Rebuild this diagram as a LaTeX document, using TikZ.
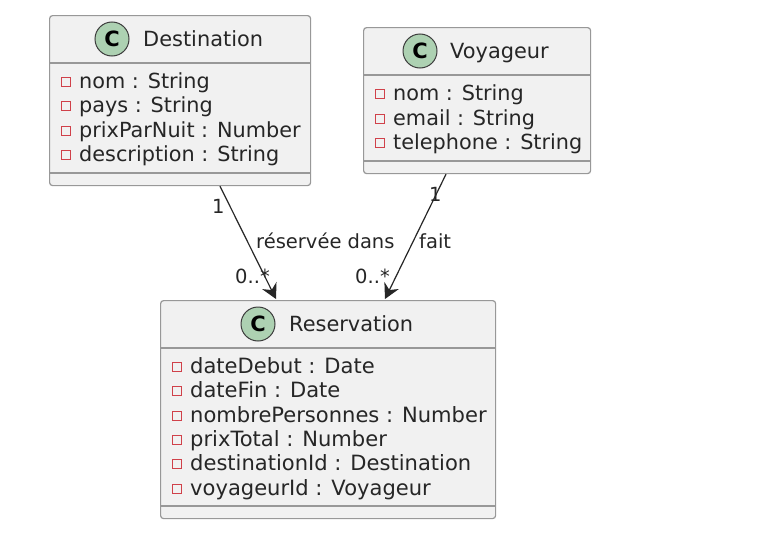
\documentclass[tikz,border=0pt]{standalone}
\usepackage{fontspec}
\setmainfont{DejaVu Sans}
\usetikzlibrary{arrows.meta,calc}
\definecolor{boxfill}{HTML}{F1F1F1}
\definecolor{boxline}{HTML}{989898}
\definecolor{txt}{HTML}{262626}
\definecolor{spot}{HTML}{ADD1B2}
\definecolor{priv}{HTML}{D0414A}
\tikzset{
  classbox/.style={draw=boxline,fill=boxfill,line width=1.2pt,rounded corners=3pt,anchor=north west,inner sep=0pt},
  sepline/.style={draw=boxline,line width=1.1pt},
  spotc/.style={circle,draw=black!60!boxline,fill=spot,line width=1pt,minimum size=34pt,inner sep=0pt,font=\fontsize{21}{21}\selectfont\bfseries,text=black},
  title/.style={font=\fontsize{20.9}{22}\selectfont,text=txt,anchor=base west,inner sep=0pt},
  member/.style={font=\fontsize{20.8}{22}\selectfont,text=txt,anchor=base west,inner sep=0pt},
  memberwide/.style={member,font=\fontsize{21.05}{22}\selectfont},
  privmark/.style={draw=priv,fill=none,line width=1.2pt},
  lbl/.style={font=\fontsize{19.5}{20}\selectfont,text=txt,anchor=base west,inner sep=0pt},
  assoc/.style={draw=txt,line width=1.2pt,-{Stealth[length=15pt,width=16pt,inset=5pt]}}
}
\newcommand{\attr}[5][member]{% style, name, x, baseline y, text
  \draw[privmark] (#3-4.5,#4-10.5) rectangle (#3+4.5,#4-1.5);
  \node[#1] (t#2) at (#3+13,#4) {#5};
}
\begin{document}
\begin{tikzpicture}[x=1pt,y=-1pt]
\useasboundingbox (0,0) rectangle (768,546);
% Destination
\node[classbox,minimum width=261pt,minimum height=170pt] (dest) at (49,15) {};
\draw[sepline] (49,63) -- (310,63) (49,173) -- (310,173);
\node[spotc] (sd) at (112,39) {C};
\node[title] (td) at (143,46) {Destination};
\attr{d1}{66}{88}{nom : String}
\attr{d2}{66}{112}{pays : String}
\attr{d3}{66}{137}{prixParNuit : Number}
\attr{d4}{66}{161}{description : String}
% Voyageur
\node[classbox,minimum width=227pt,minimum height=146pt] (voy) at (363,27) {};
\draw[sepline] (363,75) -- (590,75) (363,161) -- (590,161);
\node[spotc] (sv) at (420,51) {C};
\node[title] (tv) at (450,58) {Voyageur};
\attr{v1}{380}{100}{nom : String}
\attr{v2}{380}{125}{email : String}
\attr{v3}{380}{149}{telephone : String}
% Reservation
\node[classbox,minimum width=335pt,minimum height=218pt] (res) at (160,300) {};
\draw[sepline] (160,348) -- (495,348) (160,506) -- (495,506);
\node[spotc] (sr) at (258,324) {C};
\node[title] (tr) at (289,331) {Reservation};
\attr[memberwide]{r1}{177}{373}{dateDebut : Date}
\attr[memberwide]{r2}{177}{397}{dateFin : Date}
\attr[memberwide]{r3}{177}{422}{nombrePersonnes : Number}
\attr[memberwide]{r4}{177}{446}{prixTotal : Number}
\attr[memberwide]{r5}{177}{470}{destinationId : Destination}
\attr[memberwide]{r6}{177}{495}{voyageurId : Voyageur}
% Connectors
\coordinate (a1) at ($(dest.south west)+(171,0)$);
\coordinate (a2) at ($(res.north west)+(116,-1)$);
\coordinate (b1) at ($(voy.south west)+(83,0)$);
\coordinate (b2) at ($(res.north west)+(225,-1)$);
\draw[assoc] (a1) -- (a2);
\draw[assoc] (b1) -- (b2);
% Labels
\node[lbl] (l1) at (212,213) {1};
\node[lbl] (l2) at (256,248) {réservée dans};
\node[lbl] (l3) at (235,283) {0..*};
\node[lbl] (l4) at (429,201) {1};
\node[lbl] (l5) at (419,248) {fait};
\node[lbl] (l6) at (355,283) {0..*};
\end{tikzpicture}
\end{document}
